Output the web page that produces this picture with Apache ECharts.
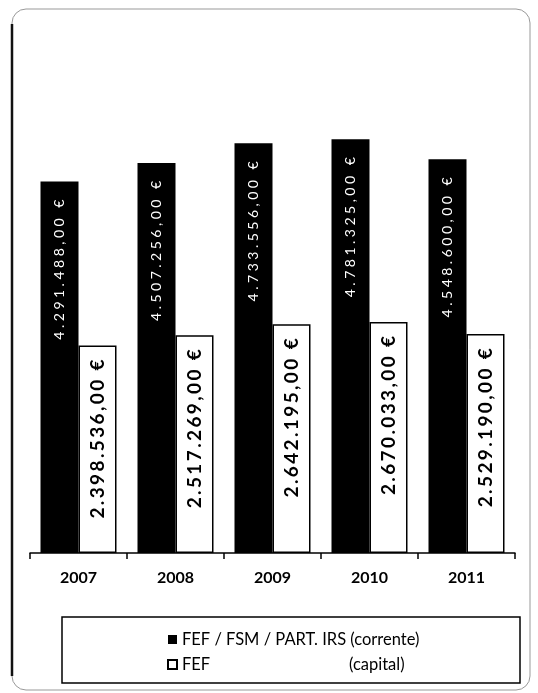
<!DOCTYPE html>
<html>
<head>
<meta charset="utf-8">
<script src="https://cdn.jsdelivr.net/npm/echarts@6/dist/echarts.min.js"></script>
<style>
  html, body { margin: 0; padding: 0; background: #fff; }
  #chart { width: 538px; height: 693px; }
</style>
</head>
<body>
<div id="chart"></div>
<script>
// Transferências do Orçamento do Estado, 2007–2011
const years = ['2007', '2008', '2009', '2010', '2011'];
const correnteName = 'FEF / FSM / PART. IRS (corrente)';
const capitalName = 'FEF (capital)';
const correnteValues = [4291488, 4507256, 4733556, 4781325, 4548600];
const capitalValues = [2398536, 2517269, 2642195, 2670033, 2529190];

// Portuguese currency format: 4.291.488,00 €
function euro(v) {
  const s = String(Math.round(v)).replace(/\B(?=(\d{3})+(?!\d))/g, '.');
  return s + ',00 €';
}
// spread the characters a little, as in the printed labels
function spaced(str, gap) {
  return str.split('').join(gap);
}

const chart = echarts.init(document.getElementById('chart'), null, { renderer: 'canvas' });

chart.setOption({
  animation: false,
  backgroundColor: '#fff',
  grid: { left: 30, right: 23, top: 77, bottom: 140 },
  xAxis: {
    type: 'category',
    data: years,
    axisLine: { lineStyle: { color: '#000', width: 1.5 } },
    axisTick: { show: true, length: 6, lineStyle: { color: '#000', width: 1.5 } },
    axisLabel: {
      color: '#000',
      fontFamily: 'Lato',
      fontWeight: 'bold',
      fontSize: 16,
      margin: 17
    }
  },
  yAxis: {
    type: 'value',
    min: 0,
    max: 5500000,
    show: false,
    splitLine: { show: false }
  },
  legend: {
    orient: 'vertical',
    left: 162,
    top: 626,
    itemWidth: 9,
    itemHeight: 9,
    itemGap: 8,
    icon: 'rect',
    data: [correnteName, capitalName],
    textStyle: {
      color: '#000',
      fontFamily: 'Lato',
      fontSize: 16.5,
      rich: {
        a: { width: 167, fontFamily: 'Lato', fontSize: 16.5, color: '#000' },
        b: { fontFamily: 'Lato', fontSize: 16.5, color: '#000' }
      }
    },
    formatter: function (name) {
      if (name === capitalName) return '{a|FEF}{b|(capital)}';
      return name;
    }
  },
  series: [
    {
      name: correnteName,
      type: 'bar',
      data: correnteValues,
      barWidth: 38,
      barGap: '0%',
      itemStyle: { color: '#000' },
      label: {
        show: true,
        position: 'insideTop',
        rotate: 90,
        align: 'right',
        verticalAlign: 'middle',
        distance: 18,
        color: '#fff',
        fontFamily: 'Lato',
        fontSize: 14,
        formatter: function (p) { return spaced(euro(p.value), '\u2005'); }
      }
    },
    {
      name: capitalName,
      type: 'bar',
      data: capitalValues,
      barWidth: 38,
      barGap: '0%',
      itemStyle: { color: '#fff', borderColor: '#000', borderWidth: 1.5 },
      label: {
        show: true,
        position: 'insideTop',
        rotate: 90,
        align: 'right',
        verticalAlign: 'middle',
        distance: 14,
        color: '#000',
        fontFamily: 'Lato',
        fontWeight: 'bold',
        fontSize: 19,
        formatter: function (p) { return spaced(euro(p.value), '\u2009'); }
      }
    }
  ],
  graphic: [
    {
      type: 'rect',
      shape: { x: 12, y: 9, width: 518, height: 681, r: 14 },
      style: { fill: 'none', stroke: '#999', lineWidth: 1 },
      silent: true
    },
    {
      type: 'line',
      shape: { x1: 12, y1: 24, x2: 12, y2: 676 },
      style: { stroke: '#111', lineWidth: 2.5 },
      silent: true
    },
    {
      type: 'rect',
      shape: { x: 62, y: 617, width: 458, height: 66 },
      style: { fill: 'none', stroke: '#000', lineWidth: 1.5 },
      silent: true
    }
  ]
});
</script>
</body>
</html>
